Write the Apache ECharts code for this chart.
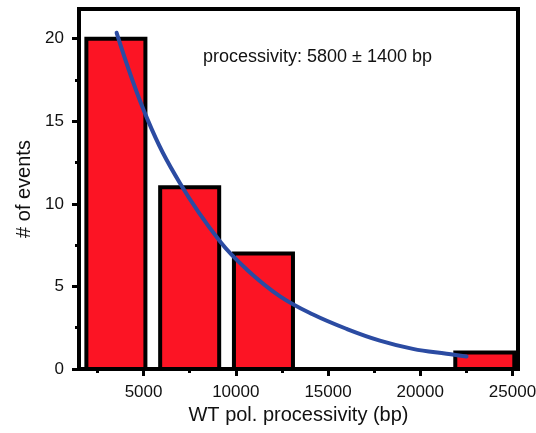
<!DOCTYPE html>
<html>
<head>
<meta charset="utf-8">
<script src="https://cdn.jsdelivr.net/npm/echarts@6/dist/echarts.min.js"></script>
<style>
  html, body { margin: 0; padding: 0; background: #fff; }
  #chart { width: 536px; height: 433px; }
</style>
</head>
<body>
<div id="chart"></div>
<script>
// histogram bins (bp) and counts
const binStart = [1900, 5900, 9900, 21900]
const binEnd = [5100, 9100, 13100, 25100]
const counts = [20, 11, 7, 1]

// exponential fit
const fitX = [3540, 5220, 7000, 9160, 10620, 12400, 14190, 16030, 17810, 19600, 21430, 22510]
const fitY = [20.36, 15.1, 11.2, 7.7, 6.0, 4.4, 3.3, 2.42, 1.72, 1.22, 0.92, 0.76]

const xTicks = [5000, 10000, 15000, 20000, 25000]
const xMinor = [2500, 7500, 12500, 17500, 22500]
const yTicks = [0, 5, 10, 15, 20]
const yMinor = [2.5, 7.5, 12.5, 17.5]

const font = 'Liberation Sans, Arial, sans-serif'
const chart = echarts.init(document.getElementById('chart'))

const barData = binStart.map((s, i) => [s, binEnd[i], counts[i]])
const fitData = fitX.map((x, i) => [x, fitY[i]])

const baseX = {
  type: 'value',
  min: 1500,
  max: 25300,
  splitLine: { show: false },
  axisLine: { onZero: false, lineStyle: { color: '#000', width: 4 } }
}
const baseY = {
  type: 'value',
  min: 0,
  max: 21.8,
  splitLine: { show: false },
  axisLine: { lineStyle: { color: '#000', width: 4 } }
}

chart.setOption({
  animation: false,
  backgroundColor: '#fff',
  title: {
    text: 'processivity: 5800 \u00b1 1400 bp',
    left: 198,
    top: 43,
    textStyle: { fontFamily: font, fontSize: 18, fontWeight: 'normal', color: '#111' }
  },
  grid: {
    left: 79, right: 18, top: 9, bottom: 64,
    outerBoundsMode: 'none',
    containLabel: false,
    show: true, borderColor: '#000', borderWidth: 4
  },
  xAxis: [
    Object.assign({}, baseX, {
      name: 'WT pol. processivity (bp)',
      nameLocation: 'middle',
      nameGap: 35,
      nameTextStyle: { fontFamily: font, fontSize: 20, color: '#111' },
      axisTick: { customValues: xTicks, length: 7, lineStyle: { color: '#000', width: 3 } },
      axisLabel: {
        customValues: xTicks, margin: 15, fontFamily: font, fontSize: 17, color: '#111',
        formatter: v => String(v)
      }
    }),
    Object.assign({}, baseX, {
      position: 'bottom',
      axisLine: { show: false },
      axisTick: { customValues: xMinor, length: 4, lineStyle: { color: '#000', width: 3 } },
      axisLabel: { show: false }
    })
  ],
  yAxis: [
    Object.assign({}, baseY, {
      name: '# of events',
      nameLocation: 'middle',
      nameGap: 44,
      nameTextStyle: { fontFamily: font, fontSize: 20, color: '#111' },
      axisTick: { customValues: yTicks, length: 7, lineStyle: { color: '#000', width: 3 } },
      axisLabel: { customValues: yTicks, margin: 15, fontFamily: font, fontSize: 17, color: '#111' }
    }),
    Object.assign({}, baseY, {
      position: 'left',
      axisLine: { show: false },
      axisTick: { customValues: yMinor, length: 4, lineStyle: { color: '#000', width: 3 } },
      axisLabel: { show: false }
    })
  ],
  series: [
    {
      type: 'custom',
      data: barData,
      encode: { x: [0, 1], y: 2 },
      renderItem: function (params, api) {
        const p0 = api.coord([api.value(0), api.value(2)])
        const p1 = api.coord([api.value(1), 0])
        return {
          type: 'rect',
          shape: { x: p0[0], y: p0[1], width: p1[0] - p0[0], height: p1[1] - p0[1] },
          style: { fill: '#fc1424', stroke: '#000', lineWidth: 4 }
        }
      }
    },
    {
      type: 'line',
      data: fitData,
      smooth: 0.4,
      symbol: 'none',
      lineStyle: { color: '#2b4ba2', width: 4, cap: 'round' }
    }
  ]
})
</script>
</body>
</html>
